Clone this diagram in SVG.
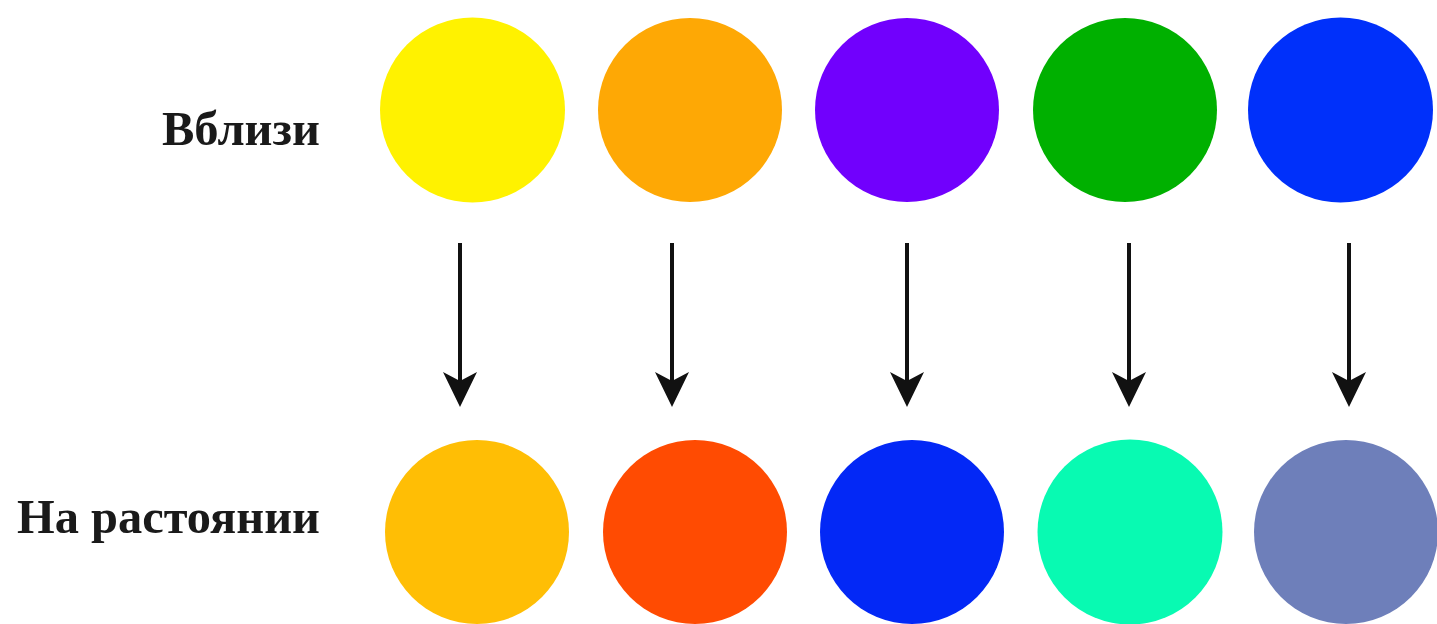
<svg xmlns="http://www.w3.org/2000/svg" width="1437" height="624" viewBox="0 0 1437 624">
<style>
.lbl{font-family:"Liberation Serif","DejaVu Serif",serif;font-weight:bold;fill:#1a1a1a}
.conn line{stroke:#111;stroke-width:4}
.conn path{fill:#111}
</style>
<rect width="1437" height="624" fill="#fff"/>
<g id="label-near"><text class="lbl" x="162" y="145" font-size="49" textLength="158" lengthAdjust="spacingAndGlyphs">Вблизи</text></g>
<g id="label-far"><text class="lbl" x="17" y="533" font-size="48" textLength="303" lengthAdjust="spacingAndGlyphs">На растоянии</text></g>
<g id="near-yellow"><circle cx="472.5" cy="110" r="92.5" fill="#FFF200"/></g>
<g id="near-orange"><circle cx="690" cy="110" r="92" fill="#FEA805"/></g>
<g id="near-purple"><circle cx="907" cy="110" r="92" fill="#7100FD"/></g>
<g id="near-green"><circle cx="1125" cy="110" r="92" fill="#00B000"/></g>
<g id="near-blue"><circle cx="1340.5" cy="110" r="92.5" fill="#0030FA"/></g>
<g id="far-amber"><circle cx="477" cy="532" r="92" fill="#FFBE05"/></g>
<g id="far-red"><circle cx="695" cy="532" r="92" fill="#FF4B02"/></g>
<g id="far-blue"><circle cx="912" cy="532" r="92" fill="#0328F6"/></g>
<g id="far-teal"><circle cx="1130" cy="532" r="92.5" fill="#08FAB2"/></g>
<g id="far-slate"><circle cx="1346" cy="532" r="92" fill="#6E7FBA"/></g>
<g id="connectors" class="conn">
<line x1="460" y1="243" x2="460" y2="385"/><path d="M460 407 L443 372 L460 381 L477 372 Z"/>
<line x1="672" y1="243" x2="672" y2="385"/><path d="M672 407 L655 372 L672 381 L689 372 Z"/>
<line x1="907" y1="243" x2="907" y2="385"/><path d="M907 407 L890 372 L907 381 L924 372 Z"/>
<line x1="1129" y1="243" x2="1129" y2="385"/><path d="M1129 407 L1112 372 L1129 381 L1146 372 Z"/>
<line x1="1349" y1="243" x2="1349" y2="385"/><path d="M1349 407 L1332 372 L1349 381 L1366 372 Z"/>
</g>
</svg>
